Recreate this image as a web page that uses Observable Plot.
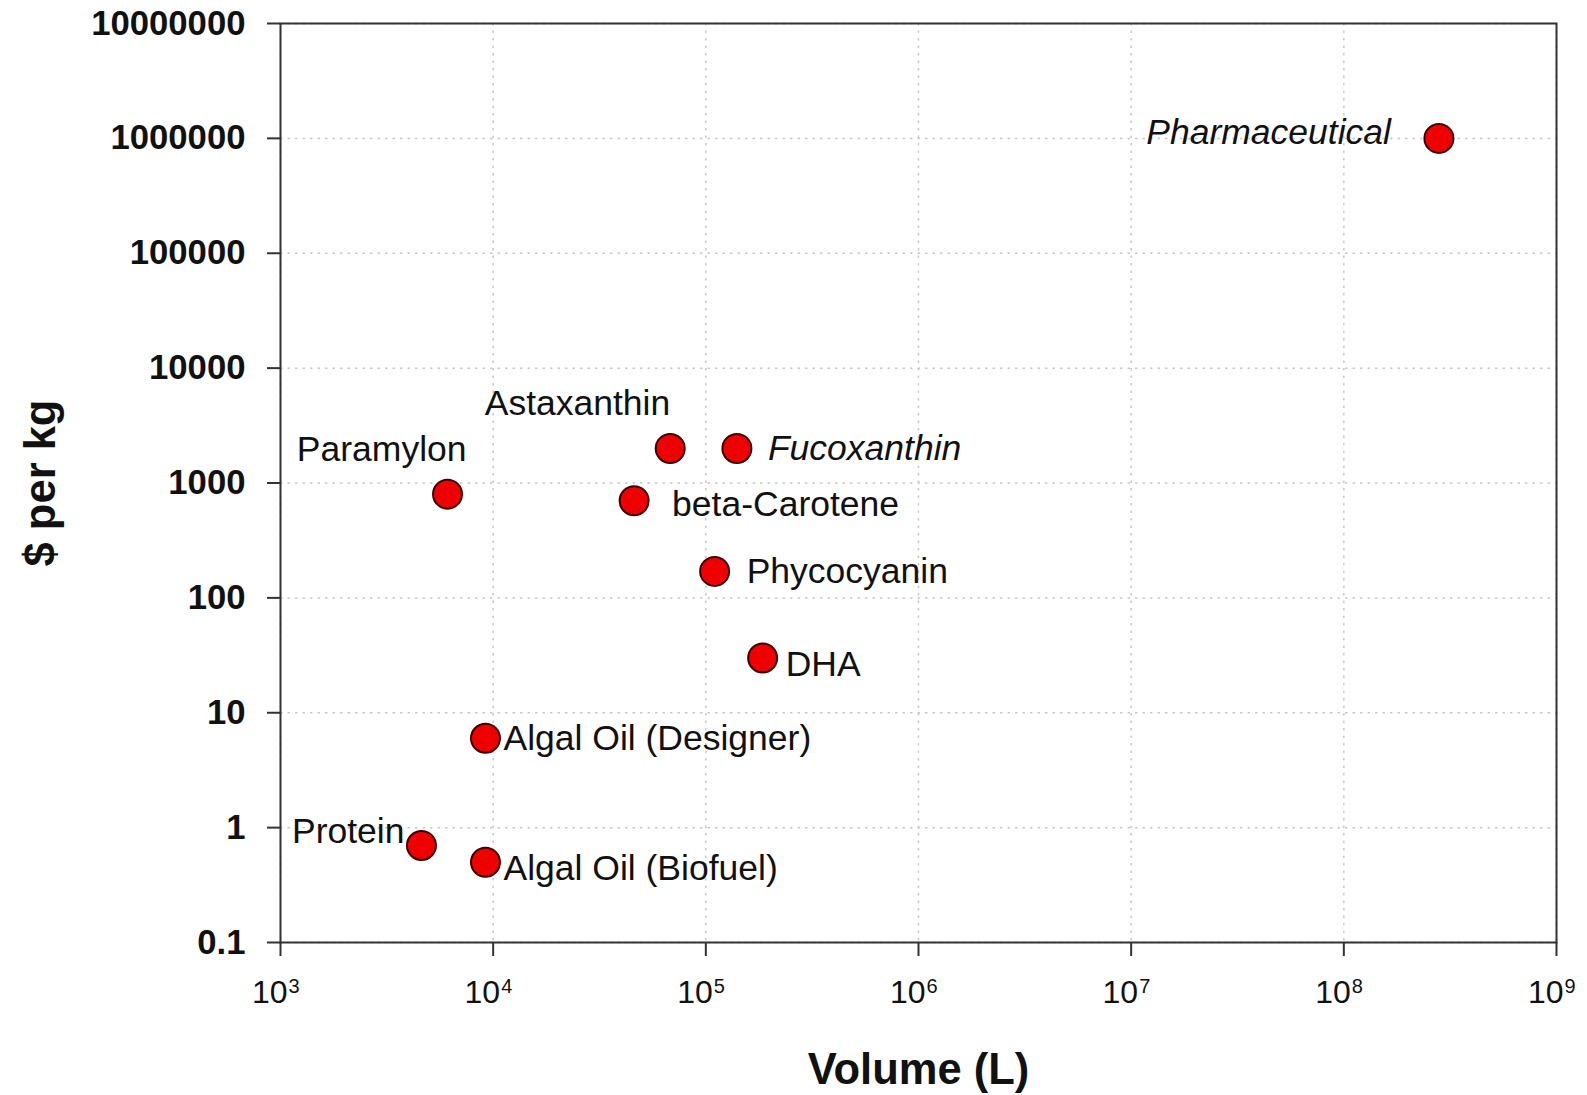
<!DOCTYPE html>
<html>
<head>
<meta charset="utf-8">
<script src="https://cdn.jsdelivr.net/npm/d3@7"></script>
<script src="https://cdn.jsdelivr.net/npm/@observablehq/plot@0.6"></script>
<style>
  html, body { margin: 0; padding: 0; background: #fff; }
  #chart svg { display: block; }
</style>
</head>
<body>
<div id="chart"></div>
<script>
// ---- data ----
const names = ["Pharmaceutical", "Astaxanthin", "Fucoxanthin", "Paramylon", "beta-Carotene",
  "Phycocyanin", "DHA", "Algal Oil (Designer)", "Protein", "Algal Oil (Biofuel)"];
const volumeL = [2.8e8, 6.8e4, 1.4e5, 6.1e3, 4.6e4, 1.1e5, 1.85e5, 9.2e3, 4.6e3, 9.2e3];
const pricePerKg = [1e6, 2000, 2000, 800, 700, 170, 30, 6, 0.7, 0.5];

const xTicks = [1e3, 1e4, 1e5, 1e6, 1e7, 1e8, 1e9];
const xTickBase = ["10", "10", "10", "10", "10", "10", "10"];
const xTickExp = ["3", "4", "5", "6", "7", "8", "9"];
const yTicks = [0.1, 1, 10, 100, 1000, 10000, 100000, 1000000, 10000000];
const yTickLabels = ["0.1", "1", "10", "100", "1000", "10000", "100000", "1000000", "10000000"];

const xTitle = "Volume (L)";
const yTitle = "$ per kg";

// ---- layout of point labels (style, not data) ----
const labelLayout = {
  "Pharmaceutical":       {anchor: "end",   dx: -48, dy: -6,  italic: true},
  "Astaxanthin":          {anchor: "end",   dx: 0,   dy: -45, italic: false},
  "Fucoxanthin":          {anchor: "start", dx: 31,  dy: 0,   italic: true},
  "Paramylon":            {anchor: "end",   dx: 19,  dy: -45, italic: false},
  "beta-Carotene":        {anchor: "start", dx: 38,  dy: 4,   italic: false},
  "Phycocyanin":          {anchor: "start", dx: 32,  dy: 0,   italic: false},
  "DHA":                  {anchor: "start", dx: 23,  dy: 7,   italic: false},
  "Algal Oil (Designer)": {anchor: "start", dx: 18,  dy: 0,   italic: false},
  "Protein":              {anchor: "end",   dx: -17, dy: -14, italic: false},
  "Algal Oil (Biofuel)":  {anchor: "start", dx: 18,  dy: 6,   italic: false}
};

const data = names.map((n, i) => ({name: n, volume: volumeL[i], price: pricePerKg[i]}));
const xtick = xTicks.map((v, i) => ({v, base: xTickBase[i], exp: xTickExp[i]}));
const yLabelMap = new Map(yTicks.map((v, i) => [v, yTickLabels[i]]));

const font = "'Liberation Sans', Arial, Helvetica, sans-serif";
const labelMarks = data.map(d => {
  const L = labelLayout[d.name];
  return Plot.text([d], {
    x: "volume", y: "price", text: "name",
    textAnchor: L.anchor, lineAnchor: "middle", dx: L.dx, dy: L.dy,
    fontSize: 35.5, fontStyle: L.italic ? "italic" : "normal",
    fill: "#111"
  });
});

const chart = Plot.plot({
  width: 1587,
  height: 1095,
  marginLeft: 280,
  marginRight: 31,
  marginTop: 23,
  marginBottom: 153,
  style: {fontFamily: font, background: "#fff", color: "#111"},
  x: {type: "log", domain: [1e3, 1e9]},
  y: {type: "log", domain: [0.1, 1e7]},
  marks: [
    Plot.gridX(xTicks, {stroke: "#c8c8c8", strokeOpacity: 1, strokeWidth: 1.5, strokeDasharray: "2.5,5"}),
    Plot.gridY(yTicks, {stroke: "#c8c8c8", strokeOpacity: 1, strokeWidth: 1.5, strokeDasharray: "2.5,5"}),
    Plot.axisY({ticks: yTicks, tickSize: 13, tickPadding: 22, fontSize: 34.7, fontWeight: "bold",
      tickFormat: d => yLabelMap.get(d), label: null, stroke: "#333", strokeWidth: 2}),
    Plot.axisX({ticks: xTicks, tickSize: 14, tickFormat: () => "", label: null, stroke: "#333", strokeWidth: 2}),
    Plot.text(xtick, {x: "v", text: "base", frameAnchor: "bottom", textAnchor: "end", lineAnchor: "middle",
      dx: 7, dy: 50, fontSize: 32, fill: "#111"}),
    Plot.text(xtick, {x: "v", text: "exp", frameAnchor: "bottom", textAnchor: "start", lineAnchor: "middle",
      dx: 8, dy: 44, fontSize: 20, fill: "#111"}),
    Plot.frame({stroke: "#333", strokeWidth: 2}),
    Plot.dot(data, {x: "volume", y: "price", r: 14.5, fill: "#ee0000", stroke: "#3a0000", strokeWidth: 2}),
    ...labelMarks,
    Plot.text([xTitle], {frameAnchor: "bottom", lineAnchor: "middle", textAnchor: "middle", dy: 128,
      fontSize: 43.5, fontWeight: "bold", fill: "#111"}),
    Plot.text([yTitle], {frameAnchor: "left", lineAnchor: "middle", textAnchor: "middle", dx: -239, rotate: -90,
      fontSize: 43.5, fontWeight: "bold", fill: "#111"})
  ]
});
document.getElementById("chart").append(chart);
</script>
</body>
</html>
